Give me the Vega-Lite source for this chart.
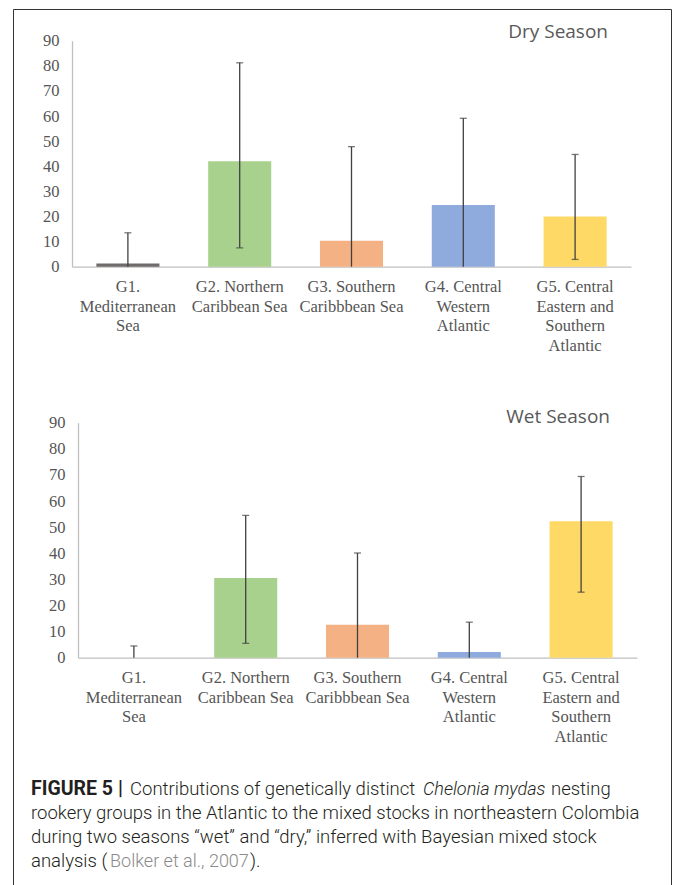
{
  "$schema": "https://vega.github.io/schema/vega-lite/v6.json",
  "width": 658,
  "height": 876,
  "autosize": "none",
  "padding": {"left": 13, "top": 9, "right": 2, "bottom": 0},
  "background": "white",
  "config": {
    "view": {"stroke": "#333333", "strokeWidth": 1},
    "axis": {
      "domainColor": "#bfbfbf",
      "domainWidth": 1.3,
      "ticks": false,
      "grid": false,
      "labelFont": "Liberation Serif",
      "labelFontSize": 16.5,
      "labelColor": "#555555",
      "title": null
    }
  },
  "datasets": {
    "dry": [
      {"group": "G1. Mediterranean Sea", "share": 1.3, "low": 0, "high": 13.5},
      {"group": "G2. Northern Caribbean Sea", "share": 42, "low": 7.5, "high": 81.2},
      {"group": "G3. Southern Caribbbean Sea", "share": 10.3, "low": 0, "high": 47.8},
      {"group": "G4. Central Western Atlantic", "share": 24.6, "low": 0, "high": 59.1},
      {"group": "G5. Central Eastern and Southern Atlantic", "share": 20, "low": 2.9, "high": 44.7}
    ],
    "wet": [
      {"group": "G1. Mediterranean Sea", "share": 0, "low": 0, "high": 4.5},
      {"group": "G2. Northern Caribbean Sea", "share": 30.5, "low": 5.5, "high": 54.5},
      {"group": "G3. Southern Caribbbean Sea", "share": 12.6, "low": 0, "high": 40.1},
      {"group": "G4. Central Western Atlantic", "share": 2.2, "low": 0, "high": 13.6},
      {"group": "G5. Central Eastern and Southern Atlantic", "share": 52.3, "low": 25.1, "high": 69.4}
    ]
  },
  "layer": [
    {
      "data": {"name": "dry"},
      "encoding": {
        "x": {
          "field": "group", "type": "nominal", "sort": null, "title": null,
          "scale": {"type": "band", "range": [59, 618], "paddingInner": 0.436, "paddingOuter": 0.218},
          "axis": {
            "orient": "bottom", "offset": -618.3, "labelAngle": 0, "labelPadding": 12,
            "labelLineHeight": 19.5, "labelLimit": 200,
            "labelExpr": "{'G1. Mediterranean Sea': ['G1.', 'Mediterranean', 'Sea'], 'G2. Northern Caribbean Sea': ['G2. Northern', 'Caribbean Sea'], 'G3. Southern Caribbbean Sea': ['G3. Southern', 'Caribbbean Sea'], 'G4. Central Western Atlantic': ['G4. Central', 'Western', 'Atlantic'], 'G5. Central Eastern and Southern Atlantic': ['G5. Central', 'Eastern and', 'Southern', 'Atlantic']}[datum.label]"
          }
        }
      },
      "layer": [
        {
          "mark": {"type": "bar"},
          "encoding": {
            "y": {
              "field": "share", "type": "quantitative", "title": null,
              "scale": {"domain": [0, 90], "range": [257.7, 31.7], "nice": false},
              "axis": {"orient": "left", "offset": -59, "values": [0, 10, 20, 30, 40, 50, 60, 70, 80, 90], "labelPadding": 13}
            },
            "color": {
              "field": "group", "type": "nominal", "legend": null,
              "scale": {
                "domain": ["G1. Mediterranean Sea", "G2. Northern Caribbean Sea", "G3. Southern Caribbbean Sea", "G4. Central Western Atlantic", "G5. Central Eastern and Southern Atlantic"],
                "range": ["#6f6b6b", "#a9d18e", "#f4b183", "#8faadc", "#ffd966"]
              }
            }
          }
        },
        {
          "mark": {"type": "rule", "color": "#404040", "strokeWidth": 1.3},
          "encoding": {
            "y": {"field": "low", "type": "quantitative", "title": null},
            "y2": {"field": "high"}
          }
        },
        {
          "mark": {"type": "tick", "orient": "horizontal", "size": 7, "thickness": 1.3, "color": "#404040"},
          "encoding": {"y": {"field": "high", "type": "quantitative", "title": null}}
        },
        {
          "transform": [{"filter": "datum.low > 0"}],
          "mark": {"type": "tick", "orient": "horizontal", "size": 7, "thickness": 1.3, "color": "#404040"},
          "encoding": {"y": {"field": "low", "type": "quantitative", "title": null}}
        },
        {
          "data": {"values": [{"label": "Dry Season"}]},
          "mark": {"type": "text", "font": "Open Sans", "fontSize": 19, "color": "#595959", "align": "center", "baseline": "middle", "dx": -17},
          "encoding": {
            "x": {"datum": "G5. Central Eastern and Southern Atlantic"},
            "y": {"datum": 93.5},
            "text": {"field": "label"}
          }
        }
      ]
    },
    {
      "data": {"name": "wet"},
      "encoding": {
        "x": {
          "field": "group", "type": "nominal", "sort": null, "title": null,
          "scale": {"type": "band", "range": [65, 624], "paddingInner": 0.436, "paddingOuter": 0.218},
          "axis": {
            "orient": "bottom", "offset": -227.3, "labelAngle": 0, "labelPadding": 12,
            "labelLineHeight": 19.5, "labelLimit": 200,
            "labelExpr": "{'G1. Mediterranean Sea': ['G1.', 'Mediterranean', 'Sea'], 'G2. Northern Caribbean Sea': ['G2. Northern', 'Caribbean Sea'], 'G3. Southern Caribbbean Sea': ['G3. Southern', 'Caribbbean Sea'], 'G4. Central Western Atlantic': ['G4. Central', 'Western', 'Atlantic'], 'G5. Central Eastern and Southern Atlantic': ['G5. Central', 'Eastern and', 'Southern', 'Atlantic']}[datum.label]"
          }
        }
      },
      "layer": [
        {
          "mark": {"type": "bar"},
          "encoding": {
            "y": {
              "field": "share", "type": "quantitative", "title": null,
              "scale": {"domain": [0, 90], "range": [648.7, 413.7], "nice": false},
              "axis": {"orient": "left", "offset": -65, "values": [0, 10, 20, 30, 40, 50, 60, 70, 80, 90], "labelPadding": 13}
            },
            "color": {
              "field": "group", "type": "nominal", "legend": null,
              "scale": {
                "domain": ["G1. Mediterranean Sea", "G2. Northern Caribbean Sea", "G3. Southern Caribbbean Sea", "G4. Central Western Atlantic", "G5. Central Eastern and Southern Atlantic"],
                "range": ["#6f6b6b", "#a9d18e", "#f4b183", "#8faadc", "#ffd966"]
              }
            }
          }
        },
        {
          "mark": {"type": "rule", "color": "#404040", "strokeWidth": 1.3},
          "encoding": {
            "y": {"field": "low", "type": "quantitative", "title": null},
            "y2": {"field": "high"}
          }
        },
        {
          "mark": {"type": "tick", "orient": "horizontal", "size": 7, "thickness": 1.3, "color": "#404040"},
          "encoding": {"y": {"field": "high", "type": "quantitative", "title": null}}
        },
        {
          "transform": [{"filter": "datum.low > 0"}],
          "mark": {"type": "tick", "orient": "horizontal", "size": 7, "thickness": 1.3, "color": "#404040"},
          "encoding": {"y": {"field": "low", "type": "quantitative", "title": null}}
        },
        {
          "data": {"values": [{"label": "Wet Season"}]},
          "mark": {"type": "text", "font": "Open Sans", "fontSize": 19, "color": "#595959", "align": "center", "baseline": "middle", "dx": -23},
          "encoding": {
            "x": {"datum": "G5. Central Eastern and Southern Atlantic"},
            "y": {"datum": 92.3},
            "text": {"field": "label"}
          }
        }
      ]
    },
    {
      "data": {"values": [{"t": "FIGURE 5 |"}]},
      "mark": {"type": "text", "x": 18, "y": 786, "align": "left", "baseline": "alphabetic", "font": "Roboto", "fontSize": 19.5, "fontWeight": "bold", "color": "#231f20"},
      "encoding": {"text": {"field": "t"}}
    },
    {
      "data": {"values": [{"t": "Contributions of genetically distinct"}]},
      "mark": {"type": "text", "x": 117, "y": 786, "align": "left", "baseline": "alphabetic", "font": "Roboto", "fontSize": 18.5, "fontWeight": 300, "color": "#231f20"},
      "encoding": {"text": {"field": "t"}}
    },
    {
      "data": {"values": [{"t": "Chelonia mydas"}]},
      "mark": {"type": "text", "x": 410, "y": 786, "align": "left", "baseline": "alphabetic", "font": "Roboto", "fontSize": 18, "fontWeight": 300, "fontStyle": "italic", "color": "#231f20"},
      "encoding": {"text": {"field": "t"}}
    },
    {
      "data": {"values": [{"t": "nesting"}]},
      "mark": {"type": "text", "x": 538, "y": 786, "align": "left", "baseline": "alphabetic", "font": "Roboto", "fontSize": 18.5, "fontWeight": 300, "color": "#231f20"},
      "encoding": {"text": {"field": "t"}}
    },
    {
      "data": {"values": [
        {"t": "rookery groups in the Atlantic to the mixed stocks in northeastern Colombia", "line": 2},
        {"t": "during two seasons “wet” and “dry,” inferred with Bayesian mixed stock", "line": 3}
      ]},
      "mark": {"type": "text", "x": 18, "align": "left", "baseline": "alphabetic", "font": "Roboto", "fontSize": 18.5, "fontWeight": 300, "color": "#231f20"},
      "encoding": {
        "y": {"field": "line", "type": "ordinal", "scale": {"type": "point", "range": [810, 834], "padding": 0}, "axis": null},
        "text": {"field": "t"}
      }
    },
    {
      "data": {"values": [{"t": "analysis ("}]},
      "mark": {"type": "text", "x": 18, "y": 858, "align": "left", "baseline": "alphabetic", "font": "Roboto", "fontSize": 18.5, "fontWeight": 300, "color": "#231f20"},
      "encoding": {"text": {"field": "t"}}
    },
    {
      "data": {"values": [{"t": "Bolker et al., 2007"}]},
      "mark": {"type": "text", "x": 97, "y": 858, "align": "left", "baseline": "alphabetic", "font": "Roboto", "fontSize": 18, "fontWeight": 300, "color": "#8a8a8a"},
      "encoding": {"text": {"field": "t"}}
    },
    {
      "data": {"values": [{"t": ")."}]},
      "mark": {"type": "text", "x": 237, "y": 858, "align": "left", "baseline": "alphabetic", "font": "Roboto", "fontSize": 18.5, "fontWeight": 300, "color": "#231f20"},
      "encoding": {"text": {"field": "t"}}
    }
  ],
  "resolve": {
    "scale": {"x": "independent", "y": "independent", "color": "independent"},
    "axis": {"x": "independent", "y": "independent"}
  }
}
